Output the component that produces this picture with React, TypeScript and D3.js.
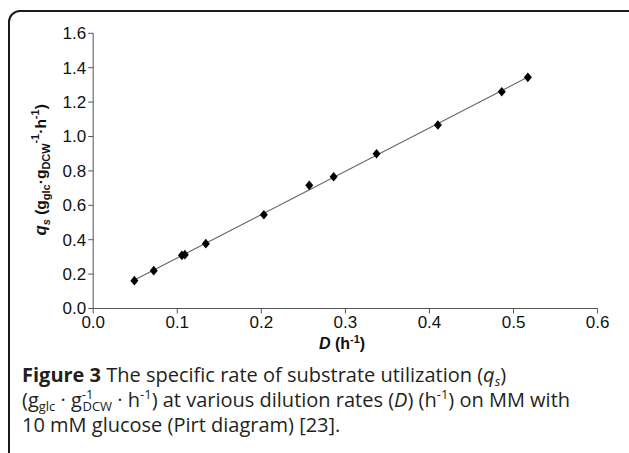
import React from "react";
import * as d3 from "d3";

const dValues = [0.049, 0.072, 0.1055, 0.109, 0.134, 0.203, 0.257, 0.286, 0.337, 0.41, 0.486, 0.517];
const qValues = [0.162, 0.22, 0.309, 0.313, 0.377, 0.545, 0.716, 0.766, 0.9, 1.067, 1.26, 1.344];
const xTicks = [0, 0.1, 0.2, 0.3, 0.4, 0.5, 0.6];
const yTicks = [0, 0.2, 0.4, 0.6, 0.8, 1.0, 1.2, 1.4, 1.6];
const fitRange = [0.045, 0.52];

const W = 629;
const H = 453;
const ML = 93.2;
const MR = 597.6;
const MT = 33.3;
const MB = 308.5;

const diamond = (cx: number, cy: number, hw: number, hh: number) =>
  `M${cx},${cy - hh}L${cx + hw},${cy}L${cx},${cy + hh}L${cx - hw},${cy}Z`;

export default function App() {
  const x = d3.scaleLinear().domain([0, 0.6]).range([ML, MR]);
  const y = d3.scaleLinear().domain([0, 1.6]).range([MB, MT]);

  const n = dValues.length;
  const mx = d3.mean(dValues)!;
  const my = d3.mean(qValues)!;
  let sxy = 0, sxx = 0;
  for (let i = 0; i < n; i++) {
    sxy += (dValues[i] - mx) * (qValues[i] - my);
    sxx += (dValues[i] - mx) ** 2;
  }
  const slope = sxy / sxx;
  const icpt = my - slope * mx;
  const line = d3
    .line<number>()
    .x((d) => x(d))
    .y((d) => y(slope * d + icpt));

  const axisColor = "#555";
  const tickFont = "'Liberation Sans', Arial, sans-serif";
  const capFont = "'Open Sans', 'Noto Sans', sans-serif";
  const capColor = "#231f20";

  return (
    <svg
      width={W}
      height={H}
      style={{ position: "absolute", left: 0, top: 0, display: "block", background: "#fff" }}
    >
      <rect x={9} y={11} width={640} height={460} rx={11} ry={11} fill="none" stroke="#1a1a1a" strokeWidth={2} />

      {/* axes */}
      <line x1={ML} x2={ML} y1={MT} y2={MB} stroke={axisColor} strokeWidth={1} />
      <line x1={ML} x2={MR} y1={MB} y2={MB} stroke={axisColor} strokeWidth={1} />
      {yTicks.map((t) => (
        <g key={"y" + t}>
          <line x1={ML - 5} x2={ML} y1={y(t)} y2={y(t)} stroke={axisColor} />
          <text x={ML - 7} y={y(t)} dy="0.35em" textAnchor="end" fontFamily={tickFont} fontSize={17} fill="#111">
            {t.toFixed(1)}
          </text>
        </g>
      ))}
      {xTicks.map((t) => (
        <g key={"x" + t}>
          <line x1={x(t)} x2={x(t)} y1={MB} y2={MB + 5} stroke={axisColor} />
          <text x={x(t)} y={MB + 19} textAnchor="middle" fontFamily={tickFont} fontSize={17} fill="#111">
            {t.toFixed(1)}
          </text>
        </g>
      ))}

      {/* fit line */}
      <path d={line(fitRange) || ""} stroke="#666" strokeWidth={1.1} fill="none" />

      {/* points */}
      {dValues.map((d, i) => (
        <path key={i} d={diamond(x(d), y(qValues[i]), 4, 4.8)} fill="#000" />
      ))}

      {/* y label */}
      <text
        transform={`translate(46,${(MT + MB) / 2 - 1}) rotate(-90)`}
        textAnchor="middle"
        fontFamily={tickFont}
        fontWeight="bold"
        fontSize={15.5}
        fill="#111"
      >
        <tspan fontStyle="italic" fontSize={17}>q</tspan>
        <tspan fontStyle="italic" fontSize={11} dy={4}>s</tspan>
        <tspan dy={-4}> (g</tspan>
        <tspan fontSize={11} dy={4}>glc</tspan>
        <tspan dy={-4}>·g</tspan>
        <tspan fontSize={11} dy={4}>DCW</tspan>
        <tspan fontSize={11} dy={-11}>-1</tspan>
        <tspan dy={7}>·h</tspan>
        <tspan fontSize={11} dy={-7}>-1</tspan>
        <tspan dy={7}>)</tspan>
      </text>

      {/* x label */}
      <text x={342} y={349} textAnchor="middle" fontFamily={tickFont} fontWeight="bold" fontSize={16} fill="#111">
        <tspan fontStyle="italic">D</tspan>
        <tspan> (h</tspan>
        <tspan fontSize={11} dy={-6}>-1</tspan>
        <tspan dy={6}>)</tspan>
      </text>

      {/* caption */}
      <g fontFamily={capFont} fontSize={20} fill={capColor}>
        <text x={22} y={382}>
          <tspan fontWeight="bold">Figure 3</tspan>
          <tspan> The specific rate of substrate utilization (</tspan>
          <tspan fontStyle="italic">q</tspan>
          <tspan fontStyle="italic" fontSize={13} dy={4}>s</tspan>
          <tspan dy={-4}>)</tspan>
        </text>
        <text x={22} y={407}>
          <tspan>(g</tspan>
          <tspan fontSize={13} dy={4}>glc</tspan>
          <tspan dy={-4}> · g</tspan>
          <tspan fontSize={13} dy={-8}>-1</tspan>
          <tspan fontSize={13} dx={-11} dy={12}>DCW</tspan>
          <tspan dy={-4}> · h</tspan>
          <tspan fontSize={13} dy={-8}>-1</tspan>
          <tspan dy={8}>) at various dilution rates (</tspan>
          <tspan fontStyle="italic">D</tspan>
          <tspan>) (h</tspan>
          <tspan fontSize={13} dy={-8}>-1</tspan>
          <tspan dy={8}>) on MM with</tspan>
        </text>
        <text x={22} y={432}>10 mM glucose (Pirt diagram) [23].</text>
      </g>
    </svg>
  );
}
